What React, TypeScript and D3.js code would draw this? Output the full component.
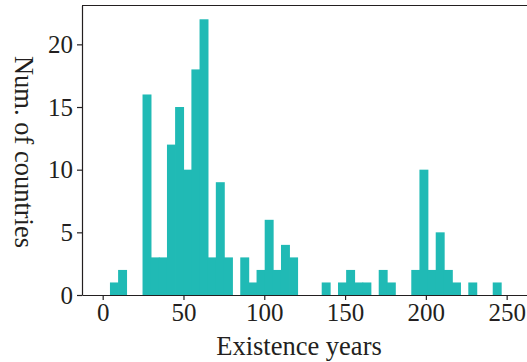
import React, { useEffect, useRef } from 'react';
import * as d3 from 'd3';

// histogram of country existence years, bins of ~5 years
const binStart = 4.5;
const binWidth = 5.04;
const counts = [
  1, 2, 0, 0, 16, 3, 3, 12, 15, 10, 18, 22, 3, 9, 3, 0,
  3, 1, 2, 6, 2, 4, 3, 0, 0, 0, 1, 0, 1, 2, 1, 1,
  0, 2, 1, 0, 0, 2, 10, 2, 5, 2, 1, 0, 1, 0, 0, 1,
];
const xTicks = [0, 50, 100, 150, 200, 250];
const yTicks = [0, 5, 10, 15, 20];

const App = () => {
  const svgRef = useRef<SVGSVGElement>(null);

  useEffect(() => {
    const margin = { top: 5.5, right: -6, bottom: 67, left: 82 },
          width = 527 - margin.left - margin.right,
          height = 362 - margin.top - margin.bottom;
    const font = '"Liberation Serif", "Times New Roman", serif';
    const ink = '#231f20';

    const root = d3.select(svgRef.current);
    root.selectAll('*').remove();
    const svg = root.append('g')
      .attr('transform', `translate(${margin.left},${margin.top})`);

    const x = d3.scaleLinear().domain([-12.8, 266.3]).range([0, width]);
    const y = d3.scaleLinear().domain([0, 23.1]).range([height, 0]);

    const bins = counts.map((c, i) => ({ x0: binStart + i * binWidth, x1: binStart + (i + 1) * binWidth, c }));

    svg.selectAll('rect.bar')
      .data(bins.filter(d => d.c > 0))
      .enter()
      .append('rect')
      .attr('class', 'bar')
      .attr('x', d => x(d.x0))
      .attr('y', d => y(d.c))
      .attr('width', d => x(d.x1) - x(d.x0) + 0.8)
      .attr('height', d => y(0) - y(d.c))
      .attr('fill', '#20bab5');

    const xAxis = svg.append('g')
      .attr('transform', `translate(0,${height})`)
      .call(d3.axisBottom(x).tickValues(xTicks).tickSize(5).tickPadding(3).tickSizeOuter(0));
    const yAxis = svg.append('g')
      .call(d3.axisLeft(y).tickValues(yTicks).tickSize(5).tickPadding(4).tickSizeOuter(0));

    [xAxis, yAxis].forEach(a => {
      a.attr('font-family', font).attr('font-size', 25);
      a.selectAll('path, line').attr('stroke', ink).attr('stroke-width', 1.2);
      a.selectAll('text').attr('fill', ink);
    });

    // top spine
    svg.append('line')
      .attr('x1', 0).attr('x2', width)
      .attr('y1', 0).attr('y2', 0)
      .attr('stroke', ink).attr('stroke-width', 1.2);

    root.append('text')
      .attr('x', 299).attr('y', 355)
      .attr('text-anchor', 'middle')
      .attr('font-family', font).attr('font-size', 26.5)
      .attr('fill', ink)
      .text('Existence years');

    root.append('text')
      .attr('transform', 'translate(15,152) rotate(90)')
      .attr('text-anchor', 'middle')
      .attr('font-family', font).attr('font-size', 26.5)
      .attr('fill', ink)
      .text('Num. of countries');
  }, []);

  return (
    <svg ref={svgRef} width={527} height={362}
      style={{ position: 'absolute', left: 0, top: 0, background: '#fff' }} />
  );
};

export default App;
